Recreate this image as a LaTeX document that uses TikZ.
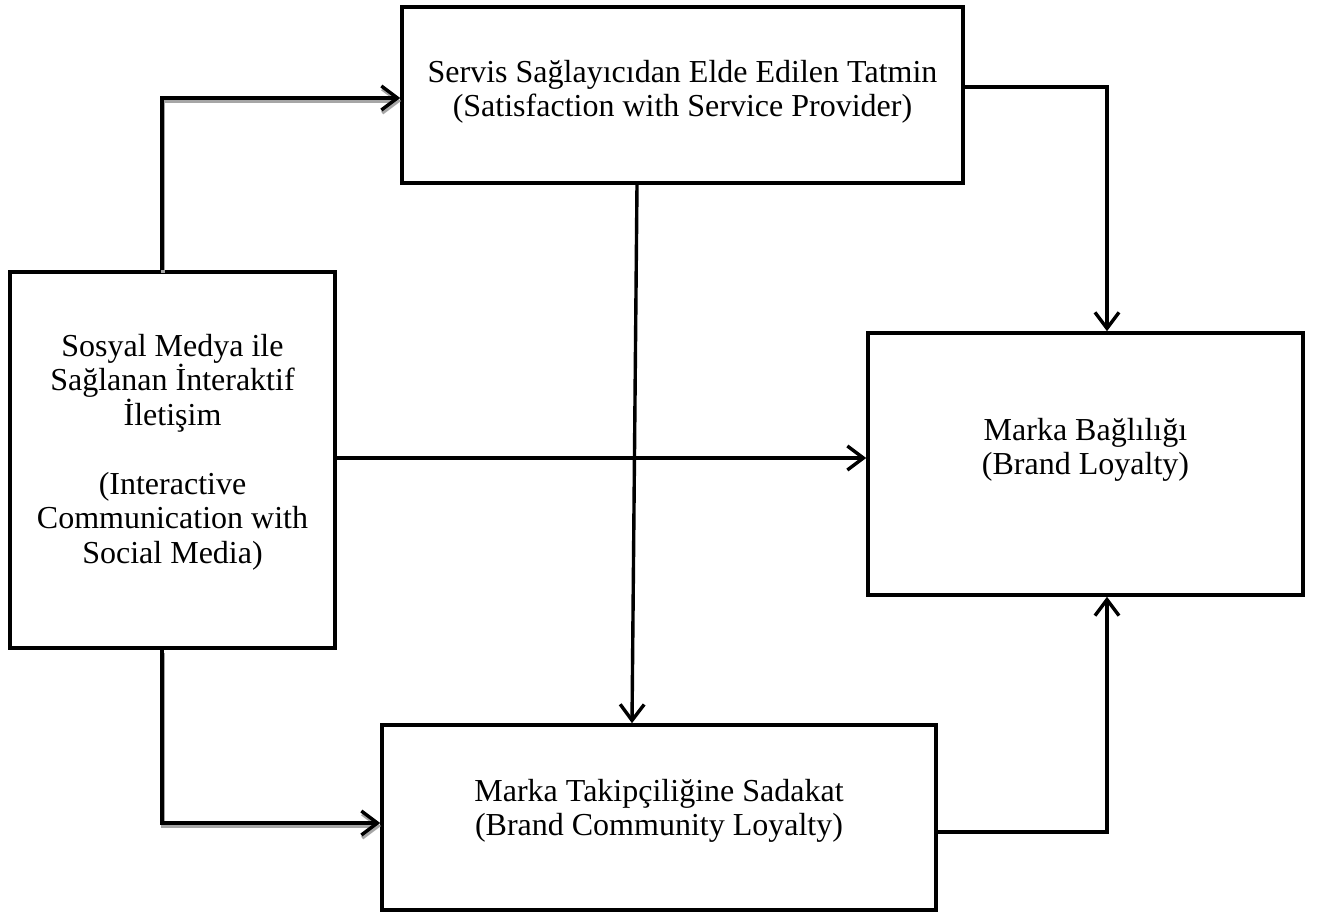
\documentclass[tikz,border=0pt]{standalone}
\usepackage{fontspec}
\setmainfont{Liberation Serif}
\usetikzlibrary{arrows.meta}
\begin{document}
\begin{tikzpicture}[x=0.5pt,y=-0.5pt,
  box/.style={draw,line width=1.8pt,inner sep=0pt},
  label/.style={align=center,inner sep=0pt,font=\fontsize{16}{17.25}\selectfont},
  link/.style={line width=1.7pt,-{Straight Barb[length=8pt,width=12pt,line width=1.7pt]}},
  shade/.style={line width=1.7pt,gray!70,-{Straight Barb[length=8pt,width=12pt,line width=1.7pt]},transform canvas={xshift=0.4pt,yshift=-1.5pt}}]
\useasboundingbox (0,0) rectangle (1335,915);

% boxes
\node[box,minimum width=280.5pt,minimum height=88pt] (sat) at (682.5,95) {};
\node[box,minimum width=162.5pt,minimum height=188pt] (sm) at (172.5,460) {};
\node[box,minimum width=217.5pt,minimum height=131pt] (bl) at (1085.5,464) {};
\node[box,minimum width=277pt,minimum height=92.5pt] (bcl) at (659,817.5) {};

% texts
\node[label] (tsat) at (682.5,92) {Servis Sağlayıcıdan Elde Edilen Tatmin\\(Satisfaction with Service Provider)};
\node[label] (tsm) at (172.5,452) {Sosyal Medya ile\\Sağlanan İnteraktif\\İletişim\\[17.25pt](Interactive\\Communication with\\Social Media)};
\node[label] (tbl) at (1085.5,450) {Marka Bağlılığı\\(Brand Loyalty)};
\node[label] (tbcl) at (659,811) {Marka Takipçiliğine Sadakat\\(Brand Community Loyalty)};

% shadowed links out of the social media box
\draw[shade] ([xshift=-5.25pt]sm.north) |- ([yshift=-1.5pt]sat.west);
\draw[link] ([xshift=-5.25pt]sm.north) |- ([yshift=-1.5pt]sat.west);
\draw[shade] ([xshift=-5.25pt]sm.south) |- ([yshift=-2.75pt]bcl.west);
\draw[link] ([xshift=-5.25pt]sm.south) |- ([yshift=-2.75pt]bcl.west);

% remaining links
\draw[link] ([yshift=4pt]sat.east) -| ([xshift=10.75pt]bl.north);
\draw[link] ([xshift=-22.75pt]sat.south) -- ([xshift=-13.5pt]bcl.north);
\draw[link] ([yshift=-7.25pt]bcl.east) -| ([xshift=10.75pt]bl.south);
\draw[link] ([yshift=1pt]sm.east) -- ([yshift=1pt]sm.east -| bl.west);
\end{tikzpicture}
\end{document}
